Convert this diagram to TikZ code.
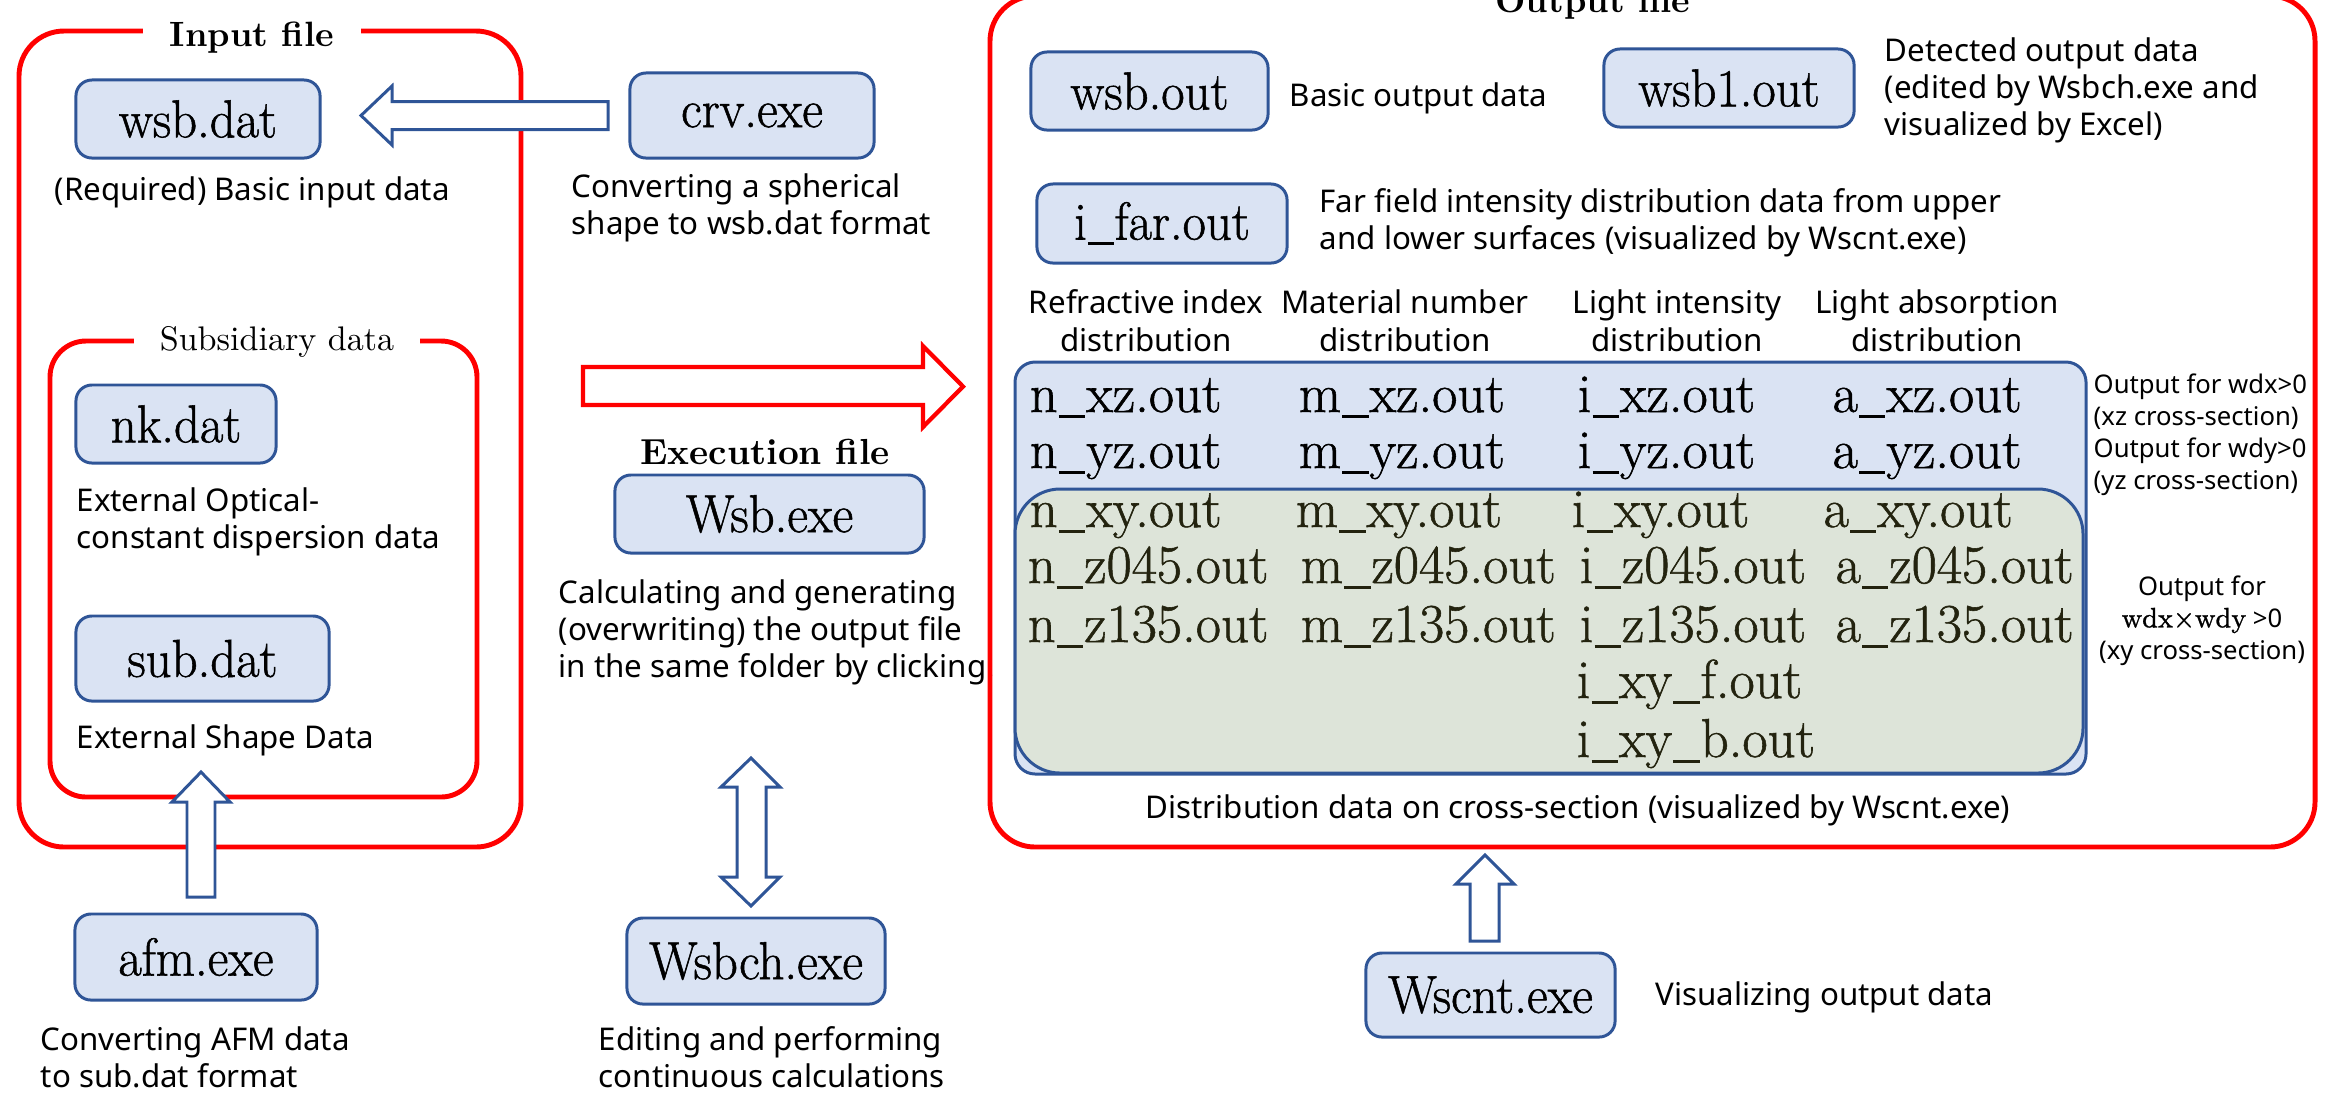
\documentclass[tikz,border=0pt]{standalone}
\usepackage{fontspec}
\setsansfont{Noto Sans}
\newfontfamily\cent[FakeBold=1.0, FakeStretch=0.95]{Latin Modern Roman}
\newfontfamily\centw[FakeBold=1.0]{Latin Modern Roman}
\newcommand\us{\kern0.02em\rule[-0.1em]{0.48em}{0.05em}\kern0.02em}
\definecolor{bblue}{RGB}{47,85,151}
\definecolor{bfill}{RGB}{218,227,243}
\definecolor{gfill}{RGB}{221,228,217}
\definecolor{gtext}{RGB}{35,35,15}
\definecolor{rred}{RGB}{255,0,0}
\begin{document}
\begin{tikzpicture}[x=0.01cm,y=-0.01cm,
  fbox/.style={draw=bblue, fill=bfill, line width=0.85pt, rounded corners=0.16cm, inner sep=0pt, font=\cent\fontsize{15.2}{17}\selectfont},
  redbox/.style={draw=rred, line width=1.4pt},
  barrow/.style={draw=bblue, fill=white, line width=0.85pt, line join=miter},
  rarrow/.style={draw=rred, fill=white, line width=1.2pt, line join=miter},
  desc/.style={font=\sffamily\fontsize{8.9}{10.5}\selectfont, inner sep=0pt, align=left},
  ttl/.style={fill=white, inner ysep=1pt, anchor=base, font=\bfseries\fontsize{10}{12}\selectfont},
  ent/.style={font=\centw\fontsize{15.6}{17}\selectfont, inner sep=0pt, anchor=base west},
  gent/.style={ent, text=gtext},
  hdr/.style={font=\sffamily\fontsize{8.9}{10.7}\selectfont, inner sep=0pt, align=center, anchor=north},
  note/.style={font=\sffamily\fontsize{7.3}{9.1}\selectfont, inner sep=0pt},
]
\useasboundingbox (0,0) rectangle (2331,1102);

% ---------------- Input file ----------------
\draw[redbox, rounded corners=0.45cm] (19,31) rectangle (521,847);
\node[ttl, inner xsep=0.27cm] (tin) at (252,46) {Input file};
\node[fbox, minimum width=2.44cm, minimum height=0.78cm] (wsbdat) at (198,119) {wsb.dat};
\node[desc, anchor=base west] (dreq) at (54,200) {(Required) Basic input data};

\draw[redbox, rounded corners=0.36cm] (50,341) rectangle (477,797);
\node[fill=white, inner xsep=0.26cm, inner ysep=1pt, anchor=base, font=\fontsize{9.7}{11}\selectfont] (tsub) at (277,350) {Subsidiary data};
\node[fbox, minimum width=2.0cm, minimum height=0.78cm] (nkdat) at (176,424) {nk.dat};
\node[desc, anchor=north west] (dnk) at (76,487) {External Optical-\\constant dispersion data};
\node[fbox, minimum width=2.53cm, minimum height=0.85cm] (subdat) at (202.5,658.5) {sub.dat};
\node[desc, anchor=base west] (dsub) at (76,748) {External Shape Data};

\node[fbox, minimum width=2.42cm, minimum height=0.86cm] (afm) at (196,957) {afm.exe};
\node[desc, anchor=north west] (dafm) at (40,1026) {Converting AFM data\\to sub.dat format};
\draw[barrow] (187,897) -- (187,802) -- (172,802) -- (201,772) -- (230,802) -- (215,802) -- (215,897) -- cycle;

% ---------------- middle ----------------
\node[fbox, minimum width=2.44cm, minimum height=0.85cm] (crv) at (752,115.5) {crv.exe};
\node[desc, anchor=north west] (dcrv) at (571,173) {Converting a spherical\\shape to wsb.dat format};
\draw[barrow] (608,101.5) -- (392,101.5) -- (392,86) -- (361,115.5) -- (392,145) -- (392,129.5) -- (608,129.5) -- cycle;

\draw[rarrow] (583,367) -- (923,367) -- (923,346) -- (963,386.5) -- (923,427) -- (923,405) -- (583,405) -- cycle;

\node[ttl, fill=none, font=\bfseries\fontsize{10.3}{12}\selectfont] (texe) at (765,464) {Execution file};
\node[fbox, minimum width=3.09cm, minimum height=0.78cm] (wsbexe) at (769.5,514) {Wsb.exe};
\node[desc, anchor=north west] (dwsb) at (558,579) {Calculating and generating\\(overwriting) the output file\\in the same folder by clicking.};

\draw[barrow] (751,758) -- (780,787) -- (766,787) -- (766,877) -- (780,877) -- (751,906) -- (721,877) -- (737,877) -- (737,787) -- (721,787) -- cycle;
\node[fbox, minimum width=2.58cm, minimum height=0.86cm] (wsbch) at (756,961) {Wsbch.exe};
\node[desc, anchor=north west] (dch) at (598,1026) {Editing and performing\\continuous calculations};

% ---------------- Output file ----------------
\node[fbox, minimum width=2.37cm, minimum height=0.78cm] (wsbout) at (1149.5,91) {wsb.out};
\node[desc, anchor=base west] (dwo) at (1289,106) {Basic output data};
\node[fbox, minimum width=2.50cm, minimum height=0.78cm] (wsb1) at (1729,88) {wsb1.out};
\node[desc, anchor=north west] (dw1) at (1884,37) {Detected output data\\(edited by Wsbch.exe and\\visualized by Excel)};
\node[fbox, minimum width=2.50cm, minimum height=0.79cm] (ifar) at (1162,223.5) {i\us far.out};
\node[desc, anchor=north west] (dfar) at (1319,188) {Far field intensity distribution data from upper\\and lower surfaces (visualized by Wscnt.exe)};

\node[hdr] (h1) at (1146,289) {Refractive index\\distribution};
\node[hdr] (h2) at (1405,289) {Material number\\distribution};
\node[hdr] (h3) at (1677,289) {Light intensity\\distribution};
\node[hdr] (h4) at (1937,289) {Light absorption\\distribution};

\draw[draw=bblue, fill=bfill, line width=0.85pt, rounded corners=0.2cm] (1015,362) rectangle (2086,774);
\draw[draw=bblue, fill=gfill, line width=0.85pt, rounded corners=0.45cm] (1015,489) rectangle (2083,773);

\node[ent] (nxz) at (1029,412) {n\us xz.out};
\node[ent] (mxz) at (1298,412) {m\us xz.out};
\node[ent] (ixz) at (1577,412) {i\us xz.out};
\node[ent] (axz) at (1832,412) {a\us xz.out};
\node[ent] (nyz) at (1029,468) {n\us yz.out};
\node[ent] (myz) at (1298,468) {m\us yz.out};
\node[ent] (iyz) at (1577,468) {i\us yz.out};
\node[ent] (ayz) at (1832,468) {a\us yz.out};
\node[gent] (nxy) at (1029,527) {n\us xy.out};
\node[gent] (mxy) at (1295,527) {m\us xy.out};
\node[gent] (ixy) at (1571,527) {i\us xy.out};
\node[gent] (axy) at (1823,527) {a\us xy.out};
\node[gent] (n045) at (1027,583) {n\us z045.out};
\node[gent] (m045) at (1300,583) {m\us z045.out};
\node[gent] (i045) at (1579,583) {i\us z045.out};
\node[gent] (a045) at (1835,583) {a\us z045.out};
\node[gent] (n135) at (1027,642) {n\us z135.out};
\node[gent] (m135) at (1300,642) {m\us z135.out};
\node[gent] (i135) at (1579,642) {i\us z135.out};
\node[gent] (a135) at (1835,642) {a\us z135.out};
\node[gent] (ixyf) at (1576,698) {i\us xy\us f.out};
\node[gent] (ixyb) at (1576,757) {i\us xy\us b.out};

\node[note, anchor=north west, align=left] (n1) at (2093,373.5) {Output for wdx>0\\(xz cross-section)\\Output for wdy>0\\(yz cross-section)};
\node[note, anchor=north, align=center] (n2) at (2202,575) {Output for\\{\cent\fontsize{8}{9.1}\selectfont wdx×wdy} >0\\(xy cross-section)};

\node[desc, anchor=base west] (ddist) at (1145,818) {Distribution data on cross-section (visualized by Wscnt.exe)};

\draw[redbox, rounded corners=0.45cm] (990,-4) rectangle (2315,847);
\node[ttl, inner xsep=0.25cm] (tout) at (1593,12) {Output file};

\draw[barrow] (1485,855) -- (1514,884) -- (1499,884) -- (1499,941) -- (1470,941) -- (1470,884) -- (1456,884) -- cycle;
\node[fbox, minimum width=2.49cm, minimum height=0.84cm] (wscnt) at (1490.5,995) {Wscnt.exe};
\node[desc, anchor=base west] (dvis) at (1655,1005) {Visualizing output data};
\end{tikzpicture}
\end{document}
